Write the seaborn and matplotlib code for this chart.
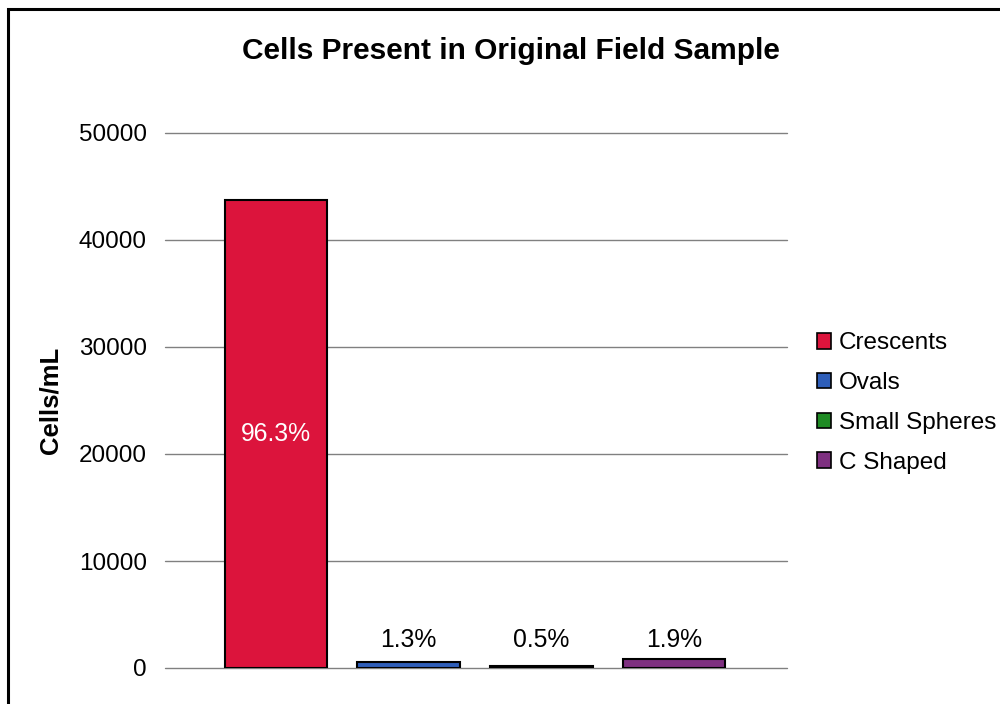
import matplotlib
matplotlib.use("Agg")
import matplotlib.pyplot as plt
from matplotlib.patches import Rectangle, Patch
import seaborn as sns
import pandas as pd

# Cell counts per morphology (cells/mL)
cell_types = ["Crescents", "Ovals", "Small Spheres", "C Shaped"]
cells_per_ml = [43700, 590, 230, 860]
colors = ["#DC143C", "#2E5EB9", "#1F8B24", "#7E3080"]
y_ticks = [0, 10000, 20000, 30000, 40000, 50000]

sns.set_theme(style="white")
plt.rcParams["font.family"] = ["Liberation Sans", "DejaVu Sans"]
plt.rcParams["text.color"] = "black"
plt.rcParams["axes.labelcolor"] = "black"
plt.rcParams["ytick.color"] = "black"

df = pd.DataFrame({"type": cell_types, "cells": cells_per_ml})
total = sum(cells_per_ml)

fig = plt.figure(figsize=(10, 7.04), dpi=100)
ax = fig.add_axes([0.165, 36 / 704, 0.622, 535 / 704])

sns.barplot(data=df, x="type", y="cells", hue="type", order=cell_types,
            hue_order=cell_types, palette=colors, saturation=1, width=0.776,
            dodge=False, edgecolor="black", linewidth=1.5, legend=False,
            ax=ax, zorder=3)

ax.set_xlim(-0.837, 3.852)
ax.set_ylim(0, 50000)
ax.set_yticks(y_ticks)
ax.set_yticklabels([str(t) for t in y_ticks], fontsize=17.5)
ax.tick_params(axis="y", length=0, pad=13)
ax.set_xticks([])
ax.set_xlabel("")
ax.set_ylabel("Cells/mL", fontsize=18.5, fontweight="bold", labelpad=12)
ax.yaxis.grid(True, color="#808080", linewidth=1.0, zorder=0)
for gl in ax.get_ygridlines():
    gl.set_clip_on(False)
for s in ax.spines.values():
    s.set_visible(False)

# Percentage labels
for i, v in enumerate(cells_per_ml):
    pct = f"{100 * v / total:.1f}%"
    if i == 0:
        ax.text(i, v / 2, pct, ha="center", va="center", color="white",
                fontsize=17.8, zorder=4)
    else:
        ax.text(i, 2600, pct, ha="center", va="center", color="black",
                fontsize=17.8, zorder=4)

fig.text(0.511, 1 - 51 / 704, "Cells Present in Original Field Sample",
         ha="center", va="center", fontsize=21.5, fontweight="bold")

handles = [Patch(facecolor=c, edgecolor="black", linewidth=1.2) for c in colors]
fig.legend(handles, cell_types, loc="center left",
           bbox_to_anchor=(0.807, 1 - 403 / 704), frameon=False,
           fontsize=17.5, handlelength=0.6, handleheight=0.6,
           handletextpad=0.3, labelspacing=0.73, borderaxespad=0)

# Chart area border
fig.patches.append(Rectangle((8 / 1000, -0.1), 1.2, 1 - 9 / 704 + 0.1,
                             transform=fig.transFigure, fill=False,
                             edgecolor="black", linewidth=2.2))

fig.savefig("out.png", dpi=100)
